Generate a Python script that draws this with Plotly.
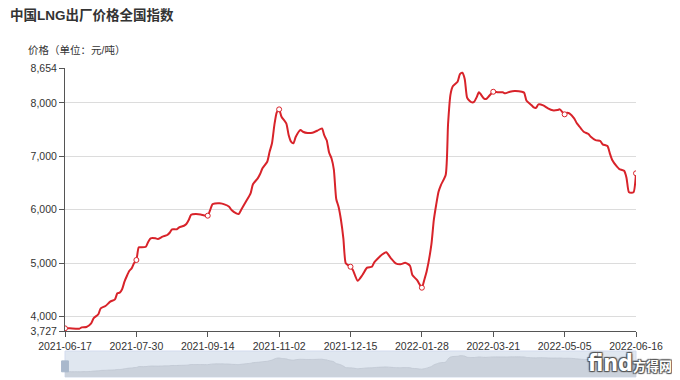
import plotly.graph_objects as go

# trading-day index (category position) and index price (元/吨)
days = [0, 2, 6, 7, 9, 11, 12, 14, 15, 17, 19, 21, 22, 23, 24, 25, 26, 27, 28, 29,
        30, 31, 32, 34, 35, 36, 38, 39, 41, 43, 44, 45, 47, 48, 50, 51, 52, 53, 55, 57,
        60, 61, 62, 63, 65, 67, 69, 70, 72, 73, 74, 76, 78, 79, 81, 82, 83, 85, 86, 87,
        88, 89, 90, 91, 93, 94, 95, 96, 97, 99, 100, 102, 104, 106, 108, 109, 110, 111, 112, 113,
        114, 115, 116, 117, 118, 119, 120, 121, 123, 125, 127, 129, 130, 132, 133, 135, 137, 139, 141, 143,
        145, 146, 148, 150, 151, 152, 154, 155, 156, 157, 158, 160, 161, 162, 163, 164, 165, 166, 167, 168,
        169, 170, 171, 172, 173, 174, 176, 177, 178, 180, 182, 184, 185, 187, 189, 192, 193, 194, 196, 197,
        198, 199, 201, 203, 205, 207, 208, 210, 211, 212, 214, 215, 216, 218, 220, 221, 223, 225, 226, 228,
        229, 230, 232, 233, 235, 236, 237, 238, 239, 240]
price = [3777, 3777, 3770, 3795, 3802, 3871, 3965, 4040, 4152, 4195, 4276, 4320, 4433, 4445, 4508, 4651, 4757, 4851, 4901, 4995,
         5057, 5295, 5295, 5306, 5400, 5463, 5463, 5450, 5494, 5525, 5568, 5632, 5632, 5669, 5699, 5731, 5806, 5906, 5918, 5910,
         5887, 5993, 6100, 6115, 6119, 6100, 6055, 5993, 5931, 5918, 5993, 6149, 6306, 6475, 6587, 6668, 6774, 6898, 7085, 7243,
         7585, 7823, 7879, 7741, 7617, 7398, 7273, 7243, 7366, 7492, 7460, 7436, 7442, 7479, 7520, 7390, 7300, 7070, 6962, 6750,
         6200, 6050, 5806, 5463, 4995, 4960, 4931, 4870, 4669, 4776, 4913, 4931, 5013, 5107, 5150, 5201, 5089, 4995, 4976, 5006,
         4950, 4776, 4680, 4538, 4682, 4840, 5350, 5800, 6087, 6336, 6462, 6649, 7600, 8150, 8310, 8353, 8396, 8540, 8565, 8450,
         8100, 8040, 8010, 8022, 8104, 8198, 8085, 8072, 8116, 8209, 8198, 8198, 8179, 8209, 8222, 8209, 8190, 8040, 7960, 7917,
         7909, 7973, 7954, 7898, 7861, 7866, 7879, 7786, 7816, 7804, 7711, 7629, 7572, 7460, 7417, 7366, 7304, 7286, 7224, 7192,
         7055, 6930, 6805, 6761, 6729, 6600, 6330, 6317, 6330, 6681]

tick_days = [0, 30, 60, 90, 120, 150, 180, 210, 240]
tick_labels = ["2021-06-17", "2021-07-30", "2021-09-14", "2021-11-02", "2021-12-15",
               "2022-01-28", "2022-03-21", "2022-05-05", "2022-06-16"]
y_ticks = [3727, 4000, 5000, 6000, 7000, 8000, 8654]
y_min, y_max = 3727, 8654

title_text = "中国LNG出厂价格全国指数"
y_name = "价格（单位：元/吨）"

RED = "#d8232a"
FONT = "Liberation Sans, Noto Sans CJK SC, sans-serif"

lookup = dict(zip(days, price))
mark_y = [lookup[d] for d in tick_days]

# page body adds an 8px offset; the figure is sized to sit inside the window
W, H = 672, 372
L, R, T, B = 56.5, 44, 60, 3
PW, PH = W - L - R, H - T - B

fig = go.Figure()
fig.add_trace(go.Scatter(x=days, y=price, mode="lines",
                         line=dict(color=RED, width=2, shape="spline", smoothing=0.6),
                         xaxis="x", yaxis="y", showlegend=False))
fig.add_trace(go.Scatter(x=tick_days, y=mark_y, mode="markers",
                         marker=dict(size=5, color="white", line=dict(color=RED, width=1)),
                         xaxis="x", yaxis="y", showlegend=False))
# data-zoom preview
fig.add_trace(go.Scatter(x=days, y=price, mode="lines", fill="tozeroy",
                         fillcolor="#cbd2dc", line=dict(color="#bfc7d2", width=0.8, shape="spline", smoothing=0.6),
                         xaxis="x2", yaxis="y2", showlegend=False, hoverinfo="skip"))

dom_main = [1 - 263 / PH, 1]
dom_slider = [0, 26 / PH]

outline = "1px 1px 1px #555, -1px -1px 1px #555, 1px -1px 1px #555, -1px 1px 1px #555"

fig.update_layout(
    width=W, height=H,
    margin=dict(l=L, r=R, t=T, b=B, autoexpand=False),
    paper_bgcolor="white", plot_bgcolor="rgba(0,0,0,0)",
    font=dict(family=FONT, color="#333", size=10),
    title=dict(text="<b>" + title_text + "</b>", x=2 / W, xanchor="left", xref="container",
               y=1 - 7 / H, yanchor="middle", yref="container",
               font=dict(size=13.5, color="#333", family=FONT)),
    xaxis=dict(domain=[0, 1], range=[0, 240], tickmode="array", tickvals=tick_days, ticktext=tick_labels,
               showgrid=False, zeroline=False, showline=True, linecolor="#555", linewidth=1,
               ticks="outside", ticklen=5, tickcolor="#555", tickfont=dict(size=10.5, color="#333"),
               anchor="y", fixedrange=True),
    yaxis=dict(domain=dom_main, range=[y_min, y_max], tickmode="array", tickvals=y_ticks, tickformat=",d",
               showgrid=True, gridcolor="#dcdcdc", gridwidth=1, zeroline=False,
               showline=True, linecolor="#555", linewidth=1, ticks="outside", ticklen=5, tickcolor="#555",
               tickfont=dict(size=10.5, color="#333"), anchor="x", fixedrange=True),
    xaxis2=dict(domain=[0, 1], range=[0, 240], visible=False, anchor="y2", fixedrange=True),
    yaxis2=dict(domain=dom_slider, range=[2190, 9970], visible=False, anchor="x2", fixedrange=True),
    shapes=[
        dict(type="rect", xref="x2 domain", yref="y2 domain", x0=0, x1=1, y0=0, y1=1,
             fillcolor="#e0e7f0", line=dict(color="#d2dbee", width=1), layer="below"),
        dict(type="rect", xref="x2 domain", yref="y2 domain", x0=-0.006, x1=0.006, y0=0.2, y1=0.62,
             fillcolor="#a9b8cc", line=dict(color="#a9b8cc", width=1), layer="above"),
        dict(type="rect", xref="x2 domain", yref="y2 domain", x0=0.994, x1=1.006, y0=0.2, y1=0.62,
             fillcolor="#a9b8cc", line=dict(color="#a9b8cc", width=1), layer="above"),
    ],
    annotations=[
        dict(text=y_name, xref="paper", yref="paper", x=(17 - L) / PW, y=(H - B - 42.5) / PH,
             xanchor="left", yanchor="middle", showarrow=False, font=dict(size=10.5, color="#333")),
        dict(text="find<span style='font-size:13px'>方得网</span>", xref="paper", yref="paper",
             x=(W - 6 - L) / PW, y=(H - B - 355) / PH, xanchor="right", yanchor="middle", showarrow=False,
             font=dict(size=23, color="white", weight="bold",
                       family="Liberation Sans Narrow, DejaVu Sans Condensed, Noto Sans CJK SC",
                       shadow=outline)),
    ],
)

fig.write_html("out.html")
